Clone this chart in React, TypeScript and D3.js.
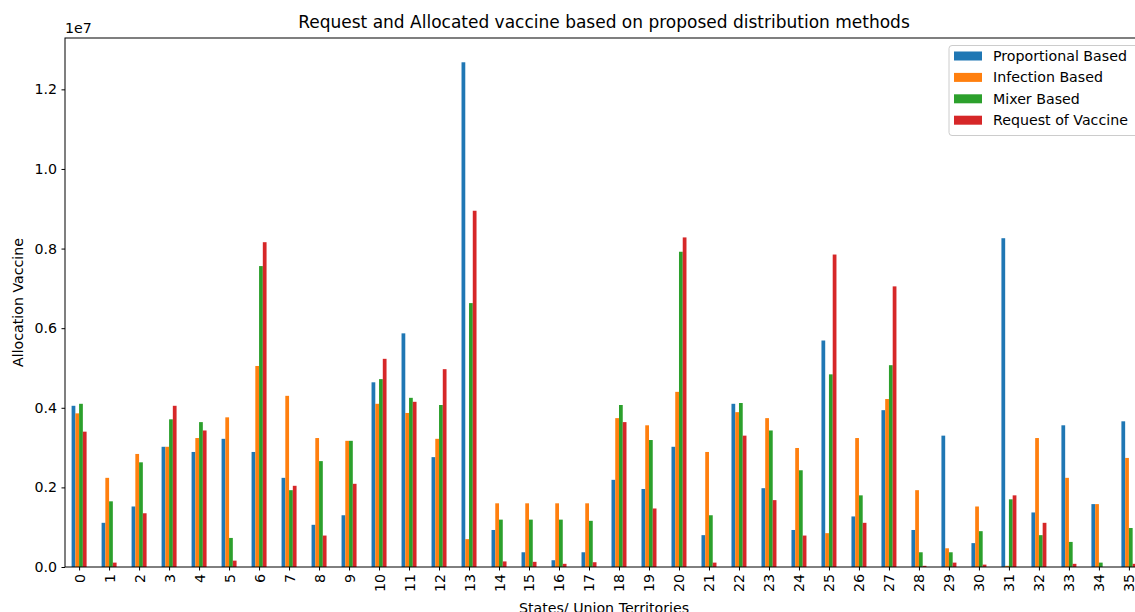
import * as d3 from 'd3';
import React, { useRef, useEffect } from 'react';

// values in units of 1e6 doses
const states = d3.range(36).map(String);
const proportional = [4.05, 1.11, 1.52, 3.02, 2.89, 3.22, 2.89, 2.24, 1.06, 1.30, 4.64, 5.87, 2.76, 12.68, 0.93, 0.37, 0.17, 0.37, 2.19, 1.96, 3.02, 0.80, 4.10, 1.98, 0.93, 5.69, 1.27, 3.94, 0.93, 3.30, 0.60, 8.26, 1.37, 3.56, 1.58, 3.66];
const infection = [3.86, 2.24, 2.84, 3.02, 3.24, 3.76, 5.05, 4.30, 3.24, 3.17, 4.10, 3.87, 3.22, 0.70, 1.60, 1.60, 1.60, 1.60, 3.74, 3.56, 4.40, 2.89, 3.89, 3.74, 2.99, 0.85, 3.24, 4.22, 1.93, 0.47, 1.52, 0.03, 3.24, 2.24, 1.58, 2.74];
const mixer = [4.10, 1.65, 2.63, 3.71, 3.64, 0.73, 7.56, 1.93, 2.66, 3.17, 4.72, 4.25, 4.07, 6.63, 1.19, 1.19, 1.19, 1.16, 4.07, 3.19, 7.92, 1.30, 4.12, 3.43, 2.43, 4.84, 1.80, 5.07, 0.37, 0.37, 0.90, 1.70, 0.80, 0.63, 0.11, 0.98];
const request = [3.40, 0.11, 1.35, 4.05, 3.43, 0.16, 8.16, 2.04, 0.79, 2.09, 5.23, 4.15, 4.97, 8.95, 0.14, 0.13, 0.08, 0.12, 3.64, 1.47, 8.28, 0.11, 3.30, 1.68, 0.79, 7.85, 1.11, 7.05, 0.03, 0.11, 0.06, 1.80, 1.11, 0.08, 0, 0.08];
const seriesNames = ['Proportional Based', 'Infection Based', 'Mixer Based', 'Request of Vaccine'];
const colors = ['#1f77b4', '#ff7f0e', '#2ca02c', '#d62728'];
const yTicks = [0, 2, 4, 6, 8, 10, 12];

function App() {
    const ref = useRef<SVGSVGElement>(null);
    const width = 1135, height = 612;
    const left = 65, right = 1143, top = 38, bottom = 567;

    useEffect(() => {
        const svg = d3.select(ref.current);
        svg.selectAll('*').remove();
        const font = 'DejaVu Sans, sans-serif';
        const fs = 14.2;

        const allSeries = [proportional, infection, mixer, request];

        const x = d3.scaleLinear().domain([-0.47, 35.47]).range([left, right]);
        const y = d3.scaleLinear().domain([0, 13.29]).range([bottom, top]);
        const bw = 0.125;

        allSeries.forEach((vals, s) => {
            svg.append('g').selectAll('rect')
                .data(vals).enter()
                .append('rect')
                .attr('x', (d, i) => x(i - 0.25 + s * bw))
                .attr('width', x(bw) - x(0))
                .attr('y', d => y(d))
                .attr('height', d => y(0) - y(d))
                .attr('fill', colors[s]);
        });

        // axes
        const xAxis = d3.axisBottom(x).tickValues(d3.range(36)).tickFormat(i => states[i as number]).tickSizeOuter(0).tickSize(3.5);
        const gx = svg.append('g').attr('transform', `translate(0,${bottom})`).call(xAxis);
        gx.select('.domain').remove();
        gx.selectAll('text')
            .attr('font-family', font).attr('font-size', fs).attr('fill', '#000')
            .attr('transform', 'rotate(-90)')
            .attr('text-anchor', 'end')
            .attr('dy', '0.35em')
            .attr('x', -7)
            .attr('y', 0);

        const yAxis = d3.axisLeft(y).tickValues(yTicks).tickFormat(d => ((d as number) / 10).toFixed(1)).tickSizeOuter(0).tickSize(3.5).tickPadding(4.5);
        const gy = svg.append('g').attr('transform', `translate(${left},0)`).call(yAxis);
        gy.select('.domain').remove();
        gy.selectAll('text').attr('font-family', font).attr('font-size', fs).attr('fill', '#000');

        // spines
        svg.append('rect')
            .attr('x', left).attr('y', top)
            .attr('width', right - left).attr('height', bottom - top)
            .attr('fill', 'none').attr('stroke', '#000').attr('stroke-width', 1);

        svg.append('text').attr('x', left).attr('y', 33)
            .attr('font-family', font).attr('font-size', fs).text('1e7');

        svg.append('text').attr('x', (left + right) / 2).attr('y', 28)
            .attr('text-anchor', 'middle')
            .attr('font-family', font).attr('font-size', 17).text('Request and Allocated vaccine based on proposed distribution methods');

        svg.append('text').attr('x', (left + right) / 2).attr('y', 613)
            .attr('text-anchor', 'middle')
            .attr('font-family', font).attr('font-size', fs).text('States/ Union Territories');

        svg.append('text')
            .attr('transform', `translate(23,${(top + bottom) / 2}) rotate(-90)`)
            .attr('text-anchor', 'middle')
            .attr('font-family', font).attr('font-size', fs).text('Allocation Vaccine');

        // legend
        const lg = svg.append('g');
        lg.append('rect')
            .attr('x', 949).attr('y', 45.5).attr('width', 200).attr('height', 90)
            .attr('rx', 3)
            .attr('fill', 'white').attr('fill-opacity', 0.8)
            .attr('stroke', '#ccc').attr('stroke-width', 1);
        seriesNames.forEach((n, i) => {
            const cy = 56 + i * 21.4;
            lg.append('rect').attr('x', 954).attr('y', cy - 4.5).attr('width', 28).attr('height', 9).attr('fill', colors[i]);
            lg.append('text').attr('x', 993).attr('y', cy).attr('dy', '0.35em')
                .attr('font-family', font).attr('font-size', fs).text(n);
        });
    }, []);

    return (
        <svg ref={ref} width={width} height={height}
            style={{ position: 'absolute', left: 0, top: 0, background: 'white' }} />
    );
}

export default App;
